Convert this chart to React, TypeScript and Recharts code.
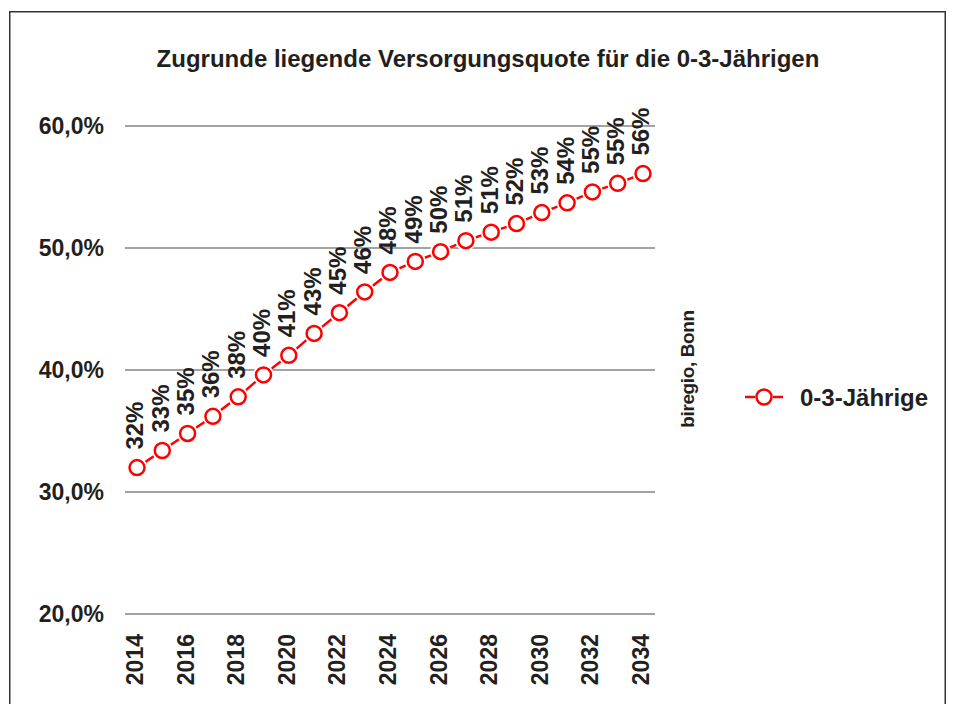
import React from 'react';
import { LineChart, Line, XAxis, YAxis, CartesianGrid, LabelList } from 'recharts';

const years = [
  '2014', '2015', '2016', '2017', '2018', '2019', '2020', '2021', '2022', '2023', '2024',
  '2025', '2026', '2027', '2028', '2029', '2030', '2031', '2032', '2033', '2034',
];
const quote = [
  32.0, 33.4, 34.8, 36.2, 37.8, 39.6, 41.2, 43.0, 44.7, 46.4, 48.0,
  48.9, 49.7, 50.6, 51.3, 52.0, 52.9, 53.7, 54.6, 55.3, 56.1,
];
const yTicks = [20, 30, 40, 50, 60];

const seriesName = '0-3-Jährige';
const title = 'Zugrunde liegende Versorgungsquote für die 0-3-Jährigen';
const source = 'biregio, Bonn';

const FONT = '"Liberation Sans", Arial, sans-serif';
const RED = '#ff0000';
const INK = '#231f20';

const data = years.map((year, i) => ({ year, value: quote[i] }));

function Dot(props: any) {
  const { cx, cy, index } = props;
  if (cx == null || cy == null) return null;
  return (
    <g key={`dot-${index}`}>
      <circle cx={cx} cy={cy} r={10.5} fill="#fff" />
      <circle cx={cx} cy={cy} r={7.5} fill="#fff" stroke={RED} strokeWidth={2.5} />
    </g>
  );
}

function ValueLabel(props: any) {
  const { x, y, value } = props;
  const ty = y - 18;
  return (
    <text
      x={x - 2}
      y={ty}
      transform={`rotate(-90, ${x - 2}, ${ty})`}
      textAnchor="start"
      dominantBaseline="central"
      fontFamily={FONT}
      fontWeight="bold"
      fontSize={24}
      fill={INK}
    >
      {Math.round(value)}%
    </text>
  );
}

function YearTick(props: any) {
  const { x, payload } = props;
  const ty = 634;
  return (
    <text
      x={x - 2}
      y={ty}
      transform={`rotate(-90, ${x - 2}, ${ty})`}
      textAnchor="end"
      dominantBaseline="central"
      fontFamily={FONT}
      fontWeight="bold"
      fontSize={23}
      fill={INK}
    >
      {payload.value}
    </text>
  );
}

export default function App() {
  return (
    <div style={{ position: 'absolute', left: 0, top: 0, width: 954, height: 704, overflow: 'hidden', background: '#fff' }}>
      <LineChart
        width={954}
        height={704}
        data={data}
        margin={{ top: 126, right: 299, bottom: 10, left: 10 }}
      >
        <CartesianGrid vertical={false} stroke="#858585" strokeWidth={1.5} />
        <XAxis
          dataKey="year"
          height={80}
          axisLine={false}
          tickLine={false}
          interval={1}
          padding={{ left: 12, right: 12 }}
          tick={<YearTick />}
        />
        <YAxis
          width={115}
          domain={[20, 60]}
          ticks={yTicks}
          axisLine={false}
          tickLine={false}
          tickSize={0}
          tickMargin={21}
          tickFormatter={(v: number) => `${v.toFixed(1).replace('.', ',')}%`}
          tick={{ fontFamily: FONT, fontWeight: 'bold', fontSize: 23, fill: INK }}
        />
        <Line
          type="linear"
          dataKey="value"
          name={seriesName}
          stroke={RED}
          strokeWidth={2.5}
          dot={(p: any) => <Dot {...p} />}
          activeDot={false}
          isAnimationActive={false}
        >
          <LabelList dataKey="value" content={<ValueLabel />} />
        </Line>
      </LineChart>
      <svg
        width={954}
        height={704}
        style={{ position: 'absolute', left: 0, top: 0, pointerEvents: 'none' }}
      >
        <path d="M9.75 720 V11.75 H945.25 V720" fill="none" stroke="#333" strokeWidth={1.5} />
        <text
          x={488}
          y={67}
          textAnchor="middle"
          fontFamily={FONT}
          fontWeight="bold"
          fontSize={24}
          fill={INK}
        >
          {title}
        </text>
        <text
          x={687}
          y={369}
          transform="rotate(-90, 687, 369)"
          textAnchor="middle"
          dominantBaseline="central"
          fontFamily={FONT}
          fontWeight="bold"
          fontSize={19}
          letterSpacing={-0.4}
          fill={INK}
        >
          {source}
        </text>
        {/* legend */}
        <line x1={745} y1={397} x2={755} y2={397} stroke={RED} strokeWidth={2.5} />
        <line x1={773} y1={397} x2={783} y2={397} stroke={RED} strokeWidth={2.5} />
        <circle cx={764} cy={397} r={7.5} fill="#fff" stroke={RED} strokeWidth={2.5} />
        <text
          x={800}
          y={397}
          dominantBaseline="central"
          fontFamily={FONT}
          fontWeight="bold"
          fontSize={24}
          fill={INK}
        >
          {seriesName}
        </text>
      </svg>
    </div>
  );
}
